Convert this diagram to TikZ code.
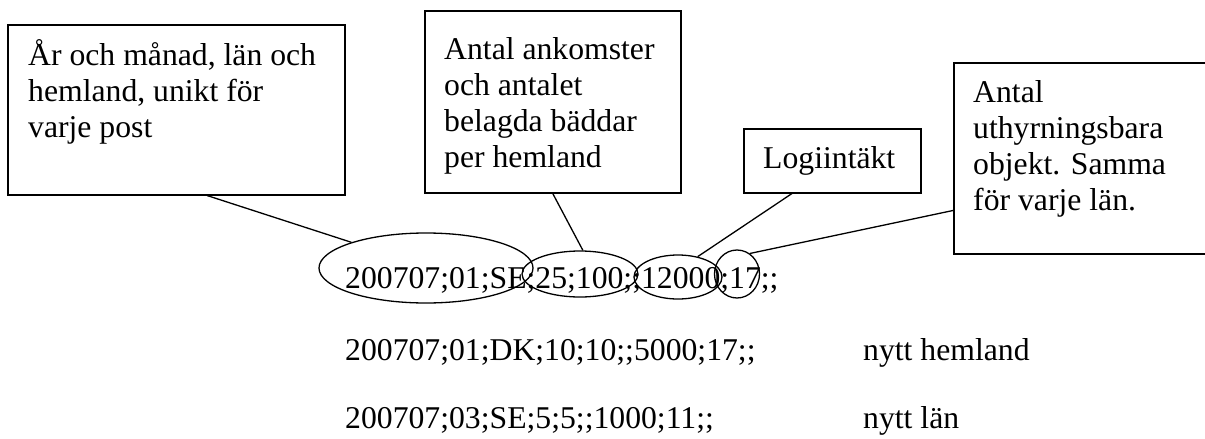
\documentclass[tikz,border=0pt]{standalone}
\usepackage{fontspec}
\setmainfont{Liberation Serif}
\usetikzlibrary{shapes.geometric}
\tikzset{
  ruta/.style={draw,line width=1.5pt,inner sep=0pt,anchor=north west},
  ring/.style={draw,ellipse,line width=1.3pt,inner sep=0pt},
  txt/.style={anchor=base west,inner sep=0pt,align=left,font=\fontsize{31.7}{36}\selectfont},
}
\begin{document}
\begin{tikzpicture}[x=1pt,y=-1pt]
    \useasboundingbox (0,0) rectangle (1205,439);

    % Rutor
    \node[ruta,minimum width=337,minimum height=170] (R1) at (7,24) {};
    \node[ruta,minimum width=256,minimum height=182] (R2) at (424,10) {};
    \node[ruta,minimum width=177,minimum height=64] (R3) at (743,128) {};
    \node[ruta,minimum width=260,minimum height=191] (R4) at (953,62) {};

    % (sista radens baslinje)
    \node[txt] (T1) at (28,137) {År och månad, län och\\hemland, unikt för\\varje post};
    \node[txt] (T2) at (444,167) {Antal ankomster\\och antalet\\belagda bäddar\\per hemland};
    \node[txt] (T3) at (763,168) {Logiintäkt};
    \node[txt] (T4) at (973,210) {Antal\\uthyrningsbara\\objekt. Samma\\för varje län.};

    % Poster
    \node[txt] (P1) at (345,288) {200707;01;SE;25;100;;12000;17;;};
    \node[txt] (P2) at (345,360) {200707;01;DK;10;10;;5000;17;;};
    \node[txt] (P3) at (345,428) {200707;03;SE;5;5;;1000;11;;};
    \node[txt] (N2) at (863,360) {nytt hemland};
    \node[txt] (N3) at (863,428) {nytt län};

    % Ellipser
    \node[ring,minimum width=214,minimum height=70] (E1) at (426,268) {};
    \node[ring,minimum width=116,minimum height=46] (E2) at (580,274) {};
    \node[ring,minimum width=88,minimum height=44] (E3) at (678,277) {};
    \node[ring,minimum width=45,minimum height=48] (E4) at (737,274) {};

    \draw[line width=1.3pt] ([xshift=200pt]R1.south west) -- (E1.161);
    \draw[line width=1.3pt] (R2.south) -- (E2.83);
    \draw[line width=1.3pt] ([xshift=49pt]R3.south west) -- (E3.46);
    \draw[line width=1.3pt] ([yshift=44pt]R4.south west) -- (E4.58);
\end{tikzpicture}
\end{document}
